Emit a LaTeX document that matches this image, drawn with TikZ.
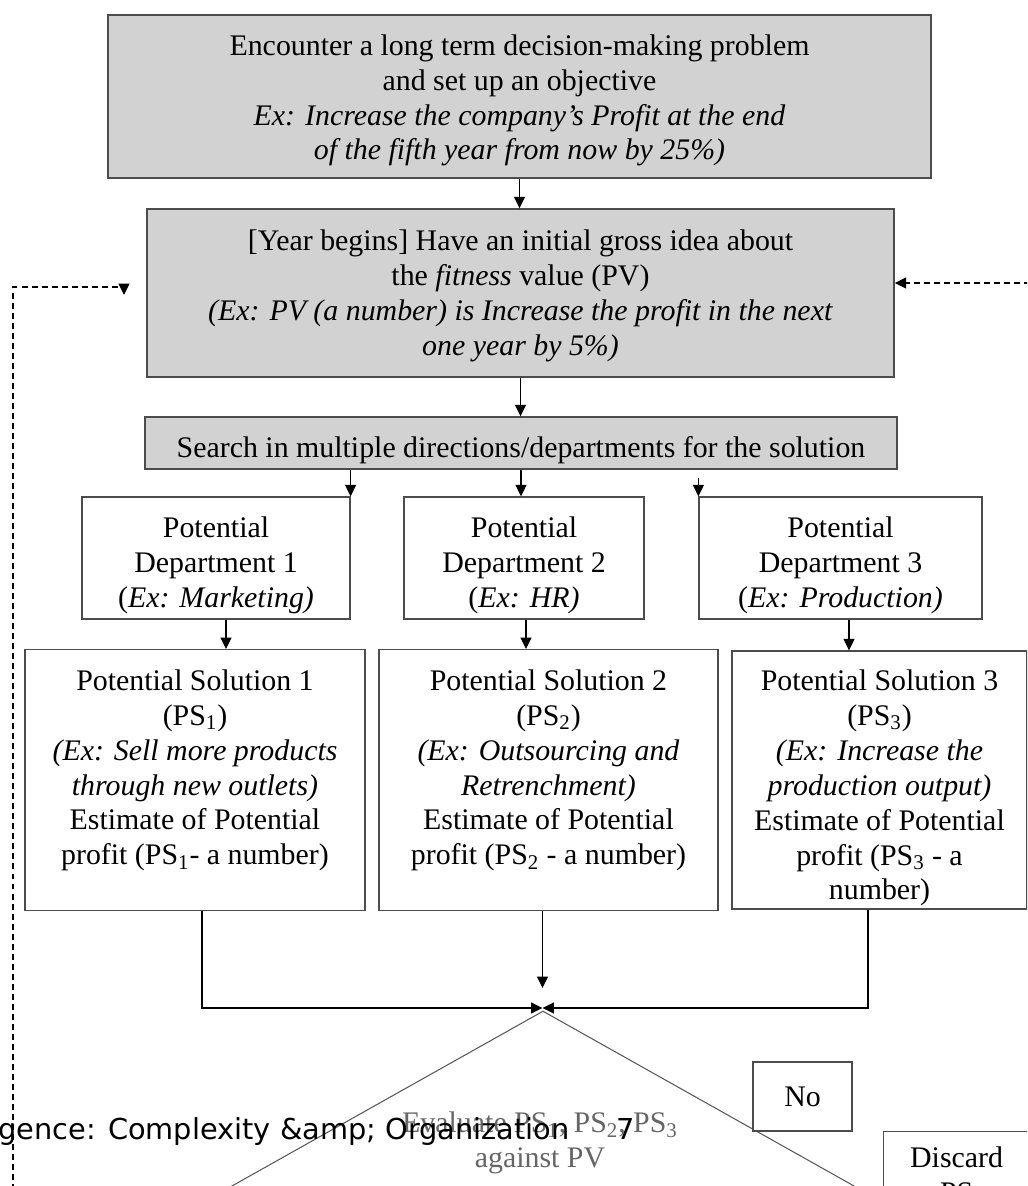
\documentclass[tikz,border=0pt]{standalone}
\usepackage{fontspec}
\setmainfont{Liberation Serif}
\newfontfamily\wmfont{DejaVu Sans}
\usetikzlibrary{shapes.geometric,arrows.meta}
\newcommand{\tpad}[1]{\rule{0pt}{#1}}

\begin{document}
\begin{tikzpicture}[font=\fontsize{17}{19.9}\selectfont,
 gbx/.style={draw=black!70,line width=0.8pt,fill=gray!35,align=center,inner sep=0pt},
 wbx/.style={draw=black!70,line width=0.7pt,fill=white,align=center,inner sep=0pt},
 arr/.style={-{Triangle[length=6.5pt,width=6.2pt]},line width=0.7pt},
 fb/.style={arr,dash pattern=on 3.4pt off 2.3pt},
 dcs/.style={draw=black!65,line width=0.6pt,shape=diamond,inner sep=0pt},
 wm/.style={anchor=base west,inner sep=0pt,font=\wmfont\fontsize{16.4}{19}\selectfont}]
\useasboundingbox (0,0) rectangle (20.54,-23.72);
\begin{scope}
\clip (0,0) rectangle (20.54,-23.72);
% top of the chain
\node[gbx,minimum width=16.46cm,minimum height=3.26cm] (obj) at (10.39,-1.93) {\tpad{0.57cm}Encounter a long term decision-making problem\\ and set up an objective\\ \textit{Ex: Increase the company’s Profit at the end}\\ \textit{of the fifth year from now by 25\%)}};
\node[gbx,minimum width=14.94cm,minimum height=3.36cm] (fit) at (10.41,-5.86) {\tpad{0.53cm}[Year begins] Have an initial gross idea about\\ the \textit{fitness} value (PV)\\ \textit{(Ex: PV (a number) is Increase the profit in the next}\\ \textit{one year by 5\%)}};
\node[gbx,minimum width=15.04cm,minimum height=1.04cm] (srch) at (10.42,-8.86) {\tpad{0.69cm}Search in multiple directions/departments for the solution};
\draw[arr] (obj.south) -- (obj.south |- fit.north);
\draw[arr] (fit.south) -- (fit.south |- srch.north);
% departments
\node[wbx,minimum width=5.36cm,minimum height=2.44cm] (d1) at (4.32,-11.16) {\tpad{0.69cm}Potential\\ Department 1\\ (\textit{Ex: Marketing)}};
\node[wbx,minimum width=4.80cm,minimum height=2.44cm] (d2) at (10.48,-11.16) {\tpad{0.69cm}Potential\\ Department 2\\ (\textit{Ex: HR)}};
\node[wbx,minimum width=5.66cm,minimum height=2.44cm] (d3) at (16.81,-11.16) {\tpad{0.69cm}Potential\\ Department 3\\ (\textit{Ex: Production)}};
\draw[arr] (srch.south -| d1.north east) -- (d1.north east);
\draw[arr] (srch.south) -- (srch.south |- d2.north);
\draw[arr] ([yshift=-0.16cm]srch.south -| d3.north west) -- (d3.north west);
% solutions
\node[wbx,minimum width=6.80cm,minimum height=5.16cm] (s1) at (3.90,-15.60) {\tpad{0.81cm}Potential Solution 1\\ (PS\textsubscript{1})\\ \textit{(Ex: Sell more products}\\ \textit{through new outlets)}\\ Estimate of Potential\\ profit (PS\textsubscript{1}- a number)\\ \strut};
\node[wbx,minimum width=6.78cm,minimum height=5.16cm] (s2) at (10.97,-15.60) {\tpad{0.81cm}Potential Solution 2\\ (PS\textsubscript{2})\\ \textit{(Ex: Outsourcing and}\\ \textit{Retrenchment)}\\ Estimate of Potential\\ profit (PS\textsubscript{2} - a number)\\ \strut};
\node[wbx,minimum width=5.90cm,minimum height=5.16cm] (s3) at (17.59,-15.60) {\tpad{0.73cm}Potential Solution 3\\ (PS\textsubscript{3})\\ \textit{(Ex: Increase the}\\ \textit{production output)}\\ Estimate of Potential\\ profit (PS\textsubscript{3} - a\\ number)};
\draw[arr] ([xshift=0.20cm]d1.south) -- ([xshift=0.20cm]d1.south |- s1.north);
\draw[arr] ([xshift=0.04cm]d2.south) -- ([xshift=0.04cm]d2.south |- s2.north);
\draw[arr] ([xshift=0.17cm]d3.south) -- ([xshift=0.17cm]d3.south |- s3.north);
% merge into the decision
\coordinate (mg) at (10.85,-20.16);
\node[dcs,minimum width=14.16cm,minimum height=7.96cm] (ev) at (10.86,-24.20) {};
\draw[arr] ([xshift=0.14cm]s1.south) |- (mg);
\draw[arr] ([xshift=-0.23cm]s3.south) |- (mg);
\draw[arr,shorten >=0.4cm] (mg |- s2.south) -- (mg);
\node[align=center,text=black!60,inner sep=0pt] (evt) at (10.80,-22.86) {Evaluate PS\textsubscript{1}, PS\textsubscript{2}, PS\textsubscript{3}\\ against PV};
\node[wbx,minimum width=1.98cm,minimum height=1.38cm] (no) at (16.05,-21.93) {No};
\node[wbx,anchor=north west,minimum width=3.10cm,minimum height=2.6cm] (disc) at (17.66,-22.62) {};
\node[align=center,anchor=north,inner sep=0pt] (disct) at ([xshift=-0.09cm,yshift=-0.3cm]disc.north) {Discard\\ PS};
% feedback loops
\coordinate (lb) at (0.26,-24.00);
\coordinate (la) at (2.48,-5.74);
\draw[fb] (lb) |- (la) -- ++(0,-0.16);
\coordinate (rb) at (20.80,-5.66);
\draw[fb] (rb) -- (fit.east |- rb);
% overlaid running head
\node[wm] (hd) at (-0.04,-22.78) {gence: Complexity \&amp; Organization\hspace{0.94cm}7};
\end{scope}
\end{tikzpicture}
\end{document}
